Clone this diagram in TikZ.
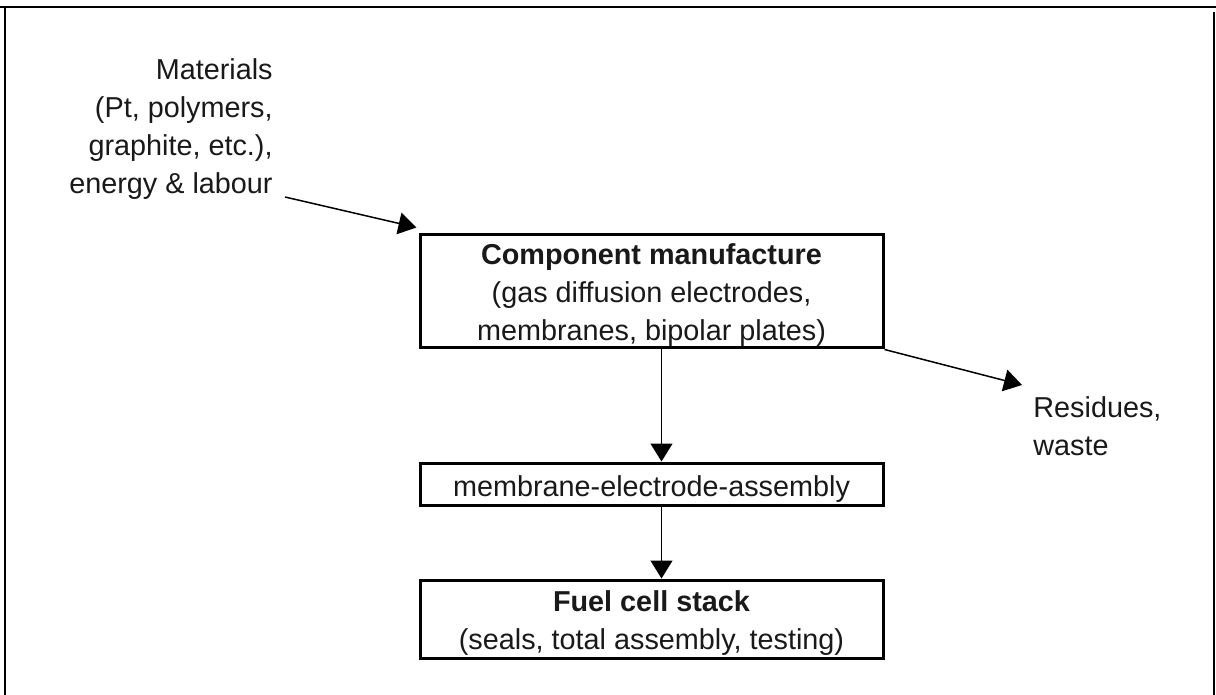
\documentclass[tikz,border=0pt]{standalone}
\usepackage{fontspec}
\setmainfont{Liberation Sans}
\usetikzlibrary{arrows.meta}
\begin{document}
\begin{tikzpicture}[x=0.5pt,y=-0.5pt,
  txt/.style={font=\fontsize{14.4}{19}\selectfont, inner sep=0pt, text=black!90},
  box/.style={draw=black, line width=1.5pt, minimum width=231.5pt, inner sep=0pt},
  boxtext/.style={txt, align=center},
  flow/.style={line width=0.75pt, -{Triangle[length=9pt,width=11pt]}},
  frame/.style={line width=1pt}
]
\useasboundingbox (0,0) rectangle (1216,695);

% outer frame (open at the bottom)
\draw[frame] (0,7) -- (1216,7);
\draw[frame] (5,7) -- (5,695);
\draw[frame] (1214,12) -- (1214,695);

% process boxes
\node[box, minimum height=56.5pt] (comp) at (651.5,291.5) {};
\node[boxtext] (comptext) at ([yshift=-2pt]comp.center)
  {\textbf{Component manufacture}\\(gas diffusion electrodes,\\membranes, bipolar plates)};
\node[box, minimum height=21pt] (mea) at (651.5,484) {};
\node[boxtext] (meatext) at ([yshift=-2.5pt]mea.center)
  {membrane-electrode-assembly};
\node[box, minimum height=39pt] (stack) at (651.5,619) {};
\node[boxtext] (stacktext) at ([yshift=-2pt]stack.center)
  {\textbf{Fuel cell stack}\\(seals, total assembly, testing)};

% inputs and outputs
\node[txt, align=right, anchor=north east] (mat) at (273,58)
  {Materials\\(Pt, polymers,\\graphite, etc.),\\energy \& labour};
\node[txt, align=left, anchor=north west] (res) at (1033,396)
  {Residues,\\waste};
\coordinate (matend) at (285,197);

% connectors
\draw[flow] (matend) -- ([shift={(-2,-6)}]comp.north west);
\draw[flow] (comp.south east) -- ([shift={(-11,-11)}]res.north west);
\draw[flow] ([xshift=5]comp.south) -- ([xshift=5]mea.north);
\draw[flow] ([xshift=5]mea.south) -- ([xshift=5]stack.north);
\end{tikzpicture}
\end{document}
